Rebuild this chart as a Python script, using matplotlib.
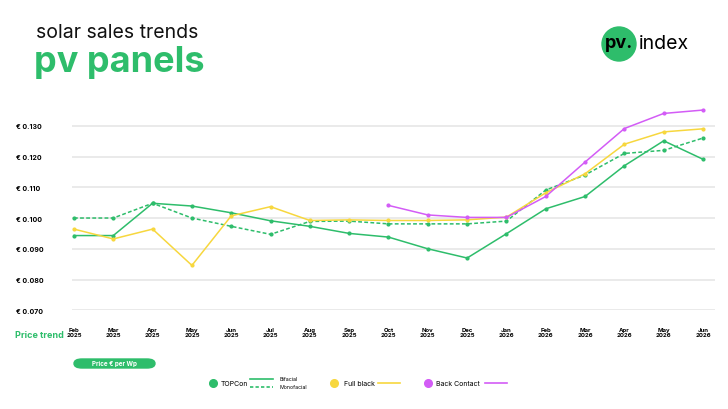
import matplotlib.pyplot as plt
from matplotlib.patches import FancyBboxPatch, Circle
from matplotlib.lines import Line2D

plt.rcParams['font.family'] = ['Inter', 'DejaVu Sans']

# data (EUR per Wp)
months = ["Feb\n2025", "Mar\n2025", "Apr\n2025", "May\n2025", "Jun\n2025", "Jul\n2025",
          "Aug\n2025", "Sep\n2025", "Oct\n2025", "Nov\n2025", "Dec\n2025", "Jan\n2026",
          "Feb\n2026", "Mar\n2026", "Apr\n2026", "May\n2026", "Jun\n2026"]
topcon_bifacial = [0.0943, 0.0943, 0.1048, 0.1039, 0.1017, 0.0991, 0.0973, 0.0950, 0.0938,
                   0.0900, 0.0870, 0.0949, 0.1030, 0.1070, 0.1170, 0.1251, 0.1191]
topcon_monofacial = [0.1000, 0.1000, 0.1048, 0.1000, 0.0973, 0.0947, 0.0989, 0.0990, 0.0981,
                     0.0981, 0.0981, 0.0990, 0.1091, 0.1140, 0.1210, 0.1220, 0.1260]
full_black = [0.0964, 0.0932, 0.0964, 0.0846, 0.1007, 0.1037, 0.0992, 0.0994, 0.0992,
              0.0992, 0.0994, 0.1003, 0.1082, 0.1144, 0.1240, 0.1280, 0.1290]
back_contact_months = months[8:]
back_contact = [0.1041, 0.1010, 0.1002, 0.1002, 0.1070, 0.1182, 0.1291, 0.1340, 0.1351]
yticks = [0.070, 0.080, 0.090, 0.100, 0.110, 0.120, 0.130]

GREEN = '#2ebd6b'
YELLOW = '#f7d73e'
PURPLE = '#d35cf6'

fig = plt.figure(figsize=(7.28, 4.10), dpi=100)
fig.patch.set_facecolor('white')
ax = fig.add_axes([0.0989, 0.2407, 0.883, 0.5027])

x = list(range(len(months)))
xb = x[8:]
ax.plot(x, topcon_bifacial, color=GREEN, lw=1.1, marker='o', ms=2, zorder=3)
ax.plot(x, topcon_monofacial, color=GREEN, lw=1.1, ls=(0, (2.5, 1.5)), marker='o', ms=2, zorder=3)
ax.plot(x, full_black, color=YELLOW, lw=1.1, marker='o', ms=2, zorder=3)
ax.plot(xb, back_contact, color=PURPLE, lw=1.1, marker='o', ms=2, zorder=3)

ax.set_xlim(-0.05, 16.3)
ax.set_ylim(0.070, 0.137)
ax.set_yticks(yticks)
ax.set_yticklabels(["€ %.3f" % v for v in yticks], fontsize=5, fontweight='bold')
ax.set_xticks(x)
ax.set_xticklabels(months, fontsize=4.3, fontweight='bold', linespacing=0.9)
ax.tick_params(axis='both', length=0)
ax.tick_params(axis='x', pad=12)
ax.tick_params(axis='y', pad=40)
for lbl in ax.get_yticklabels():
    lbl.set_horizontalalignment('left')
ax.grid(axis='y', color='#e8e8e8', lw=1.3)
ax.set_axisbelow(True)
for s in ax.spines.values():
    s.set_visible(False)

# titles
fig.text(0.049, 0.92, "solar sales trends", fontsize=14, color='#111111', va='center')
fig.text(0.047, 0.848, "pv panels", fontsize=26, color=GREEN, fontweight='bold', va='center')

# logo
fig.patches.append(Circle((6.19, 3.65), 0.17, transform=fig.dpi_scale_trans,
                          color=GREEN, zorder=1))
fig.text(619 / 728, 1 - 44 / 410, "pv.", fontsize=13, fontweight='bold', ha='center', va='center')
fig.text(639 / 728, 1 - 44 / 410, "index", fontsize=14, ha='left', va='center')

fig.text(15 / 728, 1 - 336 / 410, "Price trend", fontsize=6.5, color=GREEN, fontweight='bold', va='center')

# box
fig.patches.append(FancyBboxPatch((74 / 728, 1 - 369 / 410), 81 / 728, 9 / 410,
                                  boxstyle="round,pad=0,rounding_size=0.011",
                                  transform=fig.transFigure, color=GREEN))
fig.text(114.5 / 728, 1 - 364.5 / 410, "Price € per Wp", fontsize=4.5, color='white',
         fontweight='bold', ha='center', va='center')

# legend
ly = 1 - 384 / 410
def dot(xp, c):
    fig.lines.append(Line2D([xp / 728], [ly], marker='o', ms=5.5, color=c,
                            transform=fig.transFigure))
def seg(x0, x1, y, c, ls='-'):
    fig.lines.append(Line2D([x0 / 728, x1 / 728], [y, y], color=c, lw=1.2, ls=ls,
                            transform=fig.transFigure))

dot(212.5, GREEN)
fig.text(221 / 728, ly, "TOPCon", fontsize=5, va='center')
seg(250, 273, 1 - 380 / 410, GREEN)
seg(250, 273, 1 - 388 / 410, GREEN, (0, (2, 1.3)))
fig.text(279 / 728, 1 - 380 / 410, "Bifacial", fontsize=3.8, va='center')
fig.text(279 / 728, 1 - 388 / 410, "Monofacial", fontsize=3.8, va='center')

dot(334, YELLOW)
fig.text(344 / 728, ly, "Full black", fontsize=5, va='center')
seg(378, 400, ly, YELLOW)

dot(428, PURPLE)
fig.text(436 / 728, ly, "Back Contact", fontsize=5, va='center')
seg(485, 507, ly, PURPLE)

fig.savefig("out.png", dpi=100, facecolor='white')
